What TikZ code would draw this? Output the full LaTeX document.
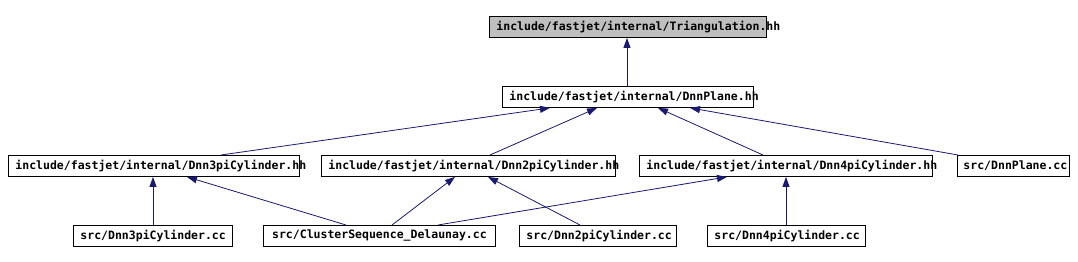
\documentclass[tikz,border=0pt]{standalone}
\usepackage{fontspec}
\setmonofont{DejaVu Sans Mono}
\usetikzlibrary{arrows.meta}
\definecolor{edgeblue}{HTML}{191970}
\definecolor{rootgray}{HTML}{BFBFBF}

\begin{document}
\begin{tikzpicture}[x=1pt,y=-1pt,
  file/.style={draw=black,fill=white,line width=0.9pt,anchor=north west,
    inner xsep=7pt,inner ysep=0pt,minimum height=21pt,align=center,
    font=\ttfamily\bfseries\fontsize{11.5}{13}\selectfont},
  dep/.style={draw=edgeblue,line width=0.8pt,-{Triangle[length=10pt,width=7pt]}}]
  \useasboundingbox (0,0) rectangle (1078,262);

  % Files
  \node[file,fill=rootgray,text width=263pt] (tri) at (489,16) {include/fastjet/internal/Triangulation.hh};
  \node[file,text width=237pt] (dnnplane) at (502,86) {include/fastjet/internal/DnnPlane.hh};
  \node[file,text width=277pt] (d3hh) at (8,155) {include/fastjet/internal/Dnn3piCylinder.hh};
  \node[file,text width=280pt] (d2hh) at (321,155) {include/fastjet/internal/Dnn2piCylinder.hh};
  \node[file,text width=279pt] (d4hh) at (639,155) {include/fastjet/internal/Dnn4piCylinder.hh};
  \node[file,text width=100pt,inner xsep=6pt] (dpcc) at (957,155) {src/DnnPlane.cc};
  \node[file,text width=145pt] (d3cc) at (73,225) {src/Dnn3piCylinder.cc};
  \node[file,text width=218pt] (csd) at (263,225) {src/ClusterSequence\_Delaunay.cc};
  \node[file,text width=143pt] (d2cc) at (519,225) {src/Dnn2piCylinder.cc};
  \node[file,text width=144pt] (d4cc) at (707,225) {src/Dnn4piCylinder.cc};

  % Includes
  \draw[dep] ([xshift=125]dnnplane.north west) -- ([xshift=138]tri.south west);
  \draw[dep] ([xshift=213]d3hh.north west) -- ([xshift=48]dnnplane.south west);
  \draw[dep] ([xshift=169]d2hh.north west) -- ([xshift=95]dnnplane.south west);
  \draw[dep] ([xshift=124]d4hh.north west) -- ([xshift=156]dnnplane.south west);
  \draw[dep] ([xshift=1]dpcc.north west) -- ([xshift=188]dnnplane.south west);
  \draw[dep] ([xshift=80]d3cc.north west) -- ([xshift=145]d3hh.south west);
  \draw[dep] ([xshift=83]csd.north west) -- ([xshift=179]d3hh.south west);
  \draw[dep] ([xshift=129]csd.north west) -- ([xshift=134]d2hh.south west);
  \draw[dep] ([xshift=175]csd.north west) -- ([xshift=88]d4hh.south west);
  \draw[dep] ([xshift=61]d2cc.north west) -- ([xshift=167]d2hh.south west);
  \draw[dep] ([xshift=79]d4cc.north west) -- ([xshift=147]d4hh.south west);
\end{tikzpicture}
\end{document}
